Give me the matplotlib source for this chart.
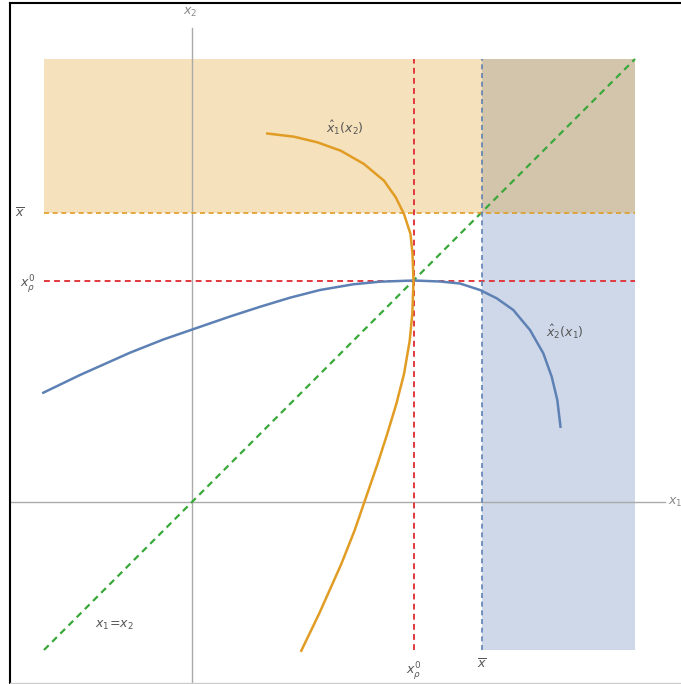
import matplotlib.pyplot as plt
from matplotlib.patches import Rectangle
from matplotlib.lines import Line2D

# values (same units on both axes)
x_bar = 2.895
x_p0 = 2.215
lo, hi = -1.48, 4.43

# best response x2_hat(x1); x1_hat(x2) is its mirror image
br_x1 = [-1.487, -1.12, -0.62, -0.287, 0.003, 0.38, 0.68, 0.98, 1.28, 1.613,
         1.88, 2.215, 2.48, 2.68, 2.88, 3.047, 3.213, 3.38, 3.513, 3.597,
         3.653, 3.685]
br_x2 = [1.093, 1.27, 1.493, 1.625, 1.725, 1.855, 1.952, 2.043, 2.12, 2.177,
         2.203, 2.215, 2.205, 2.185, 2.12, 2.037, 1.92, 1.72, 1.487, 1.253,
         1.02, 0.753]

blue = '#5e81b5'
orange = '#e19c24'
red = '#e0393e'
green = '#3aa83a'
grey = '#555555'

fig = plt.figure(figsize=(6.81, 6.84), dpi=100)
ax = fig.add_axes([0, 0, 1, 1])
ax.set_xlim(-1.92, 4.89)
ax.set_ylim(-1.82, 5.02)
ax.axis('off')

# shaded regions (they overlap in the top right corner)
ax.add_patch(Rectangle((x_bar, lo), hi - x_bar, hi - lo, color=blue, alpha=0.3, lw=0))
ax.add_patch(Rectangle((lo, x_bar), hi - lo, hi - x_bar, color=orange, alpha=0.3, lw=0))

# axes
ax.plot([-1.82, 4.73], [0, 0], color='#aaaaaa', lw=1)
ax.plot([0, 0], [-1.82, 4.74], color='#aaaaaa', lw=1)

dash = (0, (3, 2.2))
ax.plot([lo, hi], [lo, hi], color=green, lw=1.6, ls=dash)
ax.plot([lo, hi], [x_p0, x_p0], color=red, lw=1.4, ls=dash)
ax.plot([x_p0, x_p0], [lo, hi], color=red, lw=1.4, ls=dash)
ax.plot([lo, hi], [x_bar, x_bar], color=orange, lw=1.2, ls=dash)
ax.plot([x_bar, x_bar], [lo, hi], color=blue, lw=1.2, ls=dash)

# best response curves
ax.plot(br_x1, br_x2, color=blue, lw=1.8, solid_joinstyle='round')
ax.plot(br_x2, br_x1, color=orange, lw=1.8, solid_joinstyle='round')

ax.text(1.53, 3.74, r'$\hat{x}_1(x_2)$', fontsize=9, color=grey, ha='center', va='center')
ax.text(3.73, 1.70, r'$\hat{x}_2(x_1)$', fontsize=9, color=grey, ha='center', va='center')
ax.text(-0.78, -1.23, r'$x_1\!=\!x_2$', fontsize=9, color=grey, ha='center', va='center')

# axis labels and ticks
ax.text(-0.02, 4.90, r'$x_2$', fontsize=9, color='#888888', ha='center', va='center')
ax.text(4.76, 0.0, r'$x_1$', fontsize=9, color='#888888', ha='left', va='center')
ax.text(-1.72, 2.88, r'$\overline{x}$', fontsize=9, color=grey, ha='center', va='center')
ax.text(-1.64, 2.18, r'$x_\rho^0$', fontsize=9, color=grey, ha='center', va='center')
ax.text(x_p0, -1.69, r'$x_\rho^0$', fontsize=9, color=grey, ha='center', va='center')
ax.text(x_bar, -1.63, r'$\overline{x}$', fontsize=9, color=grey, ha='center', va='center')

# frame around the screenshot
fig.add_artist(Line2D([10 / 681, 10 / 681], [0, 1 - 3 / 684], color='black', lw=1.5))
fig.add_artist(Line2D([10 / 681, 1], [1 - 3 / 684, 1 - 3 / 684], color='black', lw=1.5))
fig.add_artist(Line2D([10 / 681, 1], [1 / 684, 1 / 684], color='#cccccc', lw=1))

fig.savefig('out.png', dpi=100)
